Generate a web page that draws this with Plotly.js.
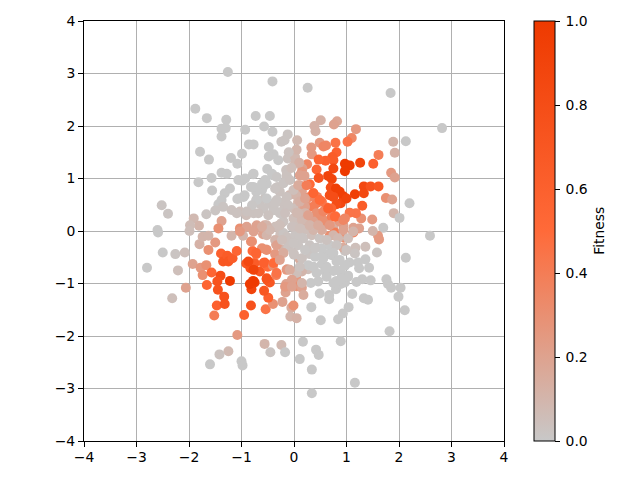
<!DOCTYPE html>
<html>
<head>
<meta charset="utf-8">
<script src="https://cdn.plot.ly/plotly-3.0.1.min.js"></script>
<style>html,body{margin:0;padding:0;background:#fff}</style>
</head>
<body>
<div id="chart" style="width:640px;height:480px"></div>
<script>
const xs = [
-1.26,-.41,-1.88,-1.66,-1.29,-1.38,-1.30,-1.38,-.93,-.73,
-.46,-.57,-.41,-.12,-.24,-.18,-.86,-.77,-.48,-.39,
-.48,-1.79,-1.62,-1.20,-.99,-1.08,-1.38,-1.28,-.78,-.51,
-.40,-.99,-1.82,-1.57,-1.56,-1.22,-1.32,-1.38,-1.44,-1.08,
-.94,-.82,-.72,-.59,-2.52,-2.40,-1.67,-1.50,-1.35,-1.19,
-1.03,-.91,-.81,-1.91,-1.81,-1.98,-2.60,-1.38,-1.44,-1.03,
-.72,-.56,-.24,-.72,-.65,-.56,-.46,-.37,-.21,-.31,
-.15,-.15,-.12,-.27,-.09,.26,1.84,2.82,2.13,1.89,
1.92,1.18,1.10,1.02,.82,.76,.51,.39,.41,.06,
.49,.56,.61,.79,.33,.34,.81,.73,.75,.60,
.47,.25,.43,.16,.02,.02,.75,.97,1.06,.97,
1.26,1.51,1.61,1.85,1.92,.65,.72,.47,.30,.15,
.11,.15,.70,.80,.87,.68,.75,.94,.89,.81,
1.0,1.16,1.33,1.33,1.46,1.61,1.75,1.87,2.20,1.90,
2.01,1.70,1.49,1.30,1.28,1.18,1.06,.97,.79,.62,
.71,.53,.37,.44,.43,.27,.08,.04,.16,.43,
.62,.94,1.13,1.24,.24,.08,.34,.75,-2.59,-1.99,
-2.50,-2.26,-2.08,-2.80,-2.21,-2.32,-2.06,-1.93,-1.80,-1.74,
-1.63,-1.50,-1.63,-1.78,-1.67,-1.74,-1.57,-1.66,-1.40,-1.46,
-1.22,-1.45,-1.33,-1.47,-1.32,-1.52,-1.39,-1.35,-1.27,-1.25,
-1.17,-1.09,-.95,-.82,-.54,-.40,-.49,-.57,-.22,-.16,
-.15,-.05,-.07,-.81,-.78,-.84,-.75,-.49,-.52,-.46,
-.65,-.91,-.83,-.75,-.79,-.72,-.56,-.50,-.34,-.40,
-.36,-.13,-.53,-.82,-.34,-.20,-1.19,-.97,-.59,-.26,
-1.08,-.56,-.24,-.45,-.17,-1.25,-1.42,-1.60,-1.0,-.98,
2.59,2.13,1.58,1.36,1.60,1.62,1.17,1.16,1.36,1.43,
1.22,1.24,1.46,1.30,1.19,1.76,1.79,1.85,2.03,1.99,
2.11,1.82,1.11,1.33,1.41,1.04,.93,.84,.51,.33,
.67,.67,.49,.32,.80,.89,.97,.81,.75,.91,
1.03,.97,1.06,.97,.94,.72,.65,.53,.53,.59,
.43,.30,.11,.27,.15,.04,.05,.15,.18,-.01,
.05,.89,.17,.42,.47,.11,.34,1.16,.34,.68,
.78,.95,1.13,-.77,-.42,-.52,-.36,-.14,-.77,-.61,
-.96,-.71,-.52,-.33,-.14,-.01,.08,-.39,-.58,-.77,
-.20,-.01,.15,-.04,.21,-.20,-.36,-.52,-.71,-.90,
-1.03,-.52,-.36,-.14,.02,.18,.34,.08,.30,-.11,
-.33,-.80,-.61,-.52,.15,.40,.53,.49,.68,.75,
.53,.56,.37,.21,.30,.08,.11,-.20,-.01,.27,
.43,.62,.81,1.03,.05,.15,-.04,-.14,-.17,-.39,
.75,.87,-.27,.21,.43,.37,.72,.87,.94,.68,
.37,.84,1.03,1.13,-.30,-.10,.00,.10,.30,.05,
-1.06,-.93,-.55,-.20,-.08,-.33,-.61,-1.06,-.80,-1.09,
-.90,-.68,-.49,-.36,-.11,.08,-.17,-.01,-.27,-.46,
-.61,-.77,.11,.30,.46,.56,.27,-.23,-.01,.21,
-.01,.40,.62,.81,1.0,.75,.56,.37,.11,.81,
.97,.62,.46,.91,-.20,-.27,-.33,-.58,-.72,-.77,
-.87,-.52,-.77,-.08,-.04,.24,.37,.49,.65,.78,
.94,.11,.21,.05,.10,.20,-.10,-.05,-.30,1.50
];
const ys = [
3.03,2.85,2.33,2.15,2.12,1.95,1.96,1.80,1.93,2.19,
2.19,1.99,1.89,1.84,1.70,1.73,1.65,1.65,1.60,1.46,
1.42,1.51,1.36,1.39,1.47,1.28,1.11,1.09,1.08,1.18,
1.06,.96,.93,1.01,.77,.81,.72,.59,.51,.61,
.68,.84,.75,.84,.49,.33,.32,.39,.46,.40,
.37,.30,.37,.24,.10,.11,.02,.19,.05,.05,
.08,.11,.15,.59,.52,.62,.52,.40,.54,.84,
.97,1.16,1.38,.75,.68,2.73,2.63,1.96,1.71,1.70,
1.49,1.94,1.77,1.70,2.09,2.03,2.11,2.00,1.90,1.73,
1.68,1.61,1.63,1.68,1.59,1.46,1.50,1.41,1.35,1.34,
1.36,1.27,1.17,1.19,1.41,1.28,1.19,1.28,1.25,1.14,
1.30,1.28,1.45,1.11,1.02,1.05,.99,1.01,.89,1.13,
.87,.75,.83,.81,.75,.68,.65,.66,.53,.51,
.62,.70,.85,.72,.85,.85,.63,.60,.53,.34,
.25,.06,.22,.48,.24,.34,.35,.24,.28,.45,
.43,.56,.72,.65,.53,.46,.53,.68,.37,.27,
.15,.11,.06,.05,.15,.10,.02,.08,-.03,0,
-.41,-.44,-.41,-.70,-.75,-1.28,-1.08,-.63,-.25,-.11,
-.09,-.22,-.36,-.70,-.65,-.84,-.79,-1.03,-.85,-.96,
-.95,-1.12,-1.25,-1.42,-1.39,-1.61,-.43,-.58,-.47,-.58,
-.52,-.38,-1.60,-1.42,-1.49,-1.39,-1.27,-1.14,-1.35,-1.17,
-1.01,-1.46,-1.63,-1.11,-.95,-1.01,-.98,-.95,-.92,-.98,
-.77,-.62,-.71,-.61,-.38,-.44,-.60,-.68,-.84,-.66,
-.44,-.73,-.35,-.20,-.25,-.35,-.09,-.09,-.06,-.06,
-1.98,-2.15,-2.17,-2.31,-2.31,-2.29,-2.35,-2.54,-2.48,-2.56,
-.09,-.51,-.41,-.30,-.09,-.16,-.32,-.43,-.54,-.70,
-.60,-.71,-.94,-.92,-.97,-.92,-1.01,-1.08,-1.08,-1.25,
-1.51,-1.91,-1.20,-1.28,-1.31,-1.45,-1.57,-1.68,-1.70,-1.45,
-1.22,-1.30,-1.19,-.99,-1.11,-1.01,-.98,-.95,-.76,-.82,
-.85,-.66,-.60,-.38,-.32,-.46,-.44,-.48,-.63,-.76,
-.32,-.44,-.54,-.73,-.77,-.89,-1.05,-1.08,-1.22,-1.42,
-1.66,-2.10,-2.11,-2.26,-2.36,-2.44,-2.64,-2.89,-3.09,-.09,
-.03,-.13,-.03,1.09,1.09,.90,.81,1.06,.84,.78,
.65,.59,.62,.59,.65,.78,.56,.40,.43,.34,
.18,.24,.21,.08,.02,-.04,.08,.11,.11,.08,
-.01,-.08,-.17,-.11,-.08,-.14,-.08,-.27,-.27,-.30,
-.27,-.20,-.33,-.36,-.52,-.49,-.33,-.14,-.27,-.08,
.02,.21,.46,.46,.65,.87,1.06,.40,.43,-.65,
-.80,-.68,-.74,-.87,-.80,-.99,-.93,-.74,-1.06,-.61,
-.99,-.55,.34,.34,.34,.18,.27,.18,.02,.11,
.02,-.14,-.14,-.01,.10,-.20,-.45,-.10,.10,.35,
.97,1.0,.97,.91,.97,1.03,.90,.62,.49,.34,
.37,.34,.30,.53,.49,.34,.34,.08,.11,.02,
.08,-.01,.05,.11,.11,.37,.30,-.17,-.23,-.36,
-.42,-.33,-.17,-.27,-.36,-.42,-.52,-.68,-.68,-.58,
-.65,-.87,-.96,-.90,-.42,-.55,-.80,-.61,-.42,-.74,
-.58,-.90,-.96,-.74,-1.06,.87,.72,.59,.43,.27,
.21,.56,.62,1.55,1.30,1.05,1.50,1.20,1.35,.00
];
const fitness = [
0,0,0,0,0,0,0,0,0,0,
0,0,0,.02,.02,.02,0,0,0,0,
0,0,0,0,0,0,0,0,0,0,
0,0,0,0,0,0,0,0,0,0,
0,0,0,0,.02,.02,.02,.02,.02,.03,
.05,.05,.05,.08,.1,.06,0,.2,.3,.3,
.2,.15,.05,.02,.02,.02,.02,.02,.03,.02,
.03,.03,.03,.03,.08,0,0,0,0,.1,
.12,.25,.35,.45,.18,.2,.12,.12,.12,.08,
.25,.35,.35,.45,.25,.25,.6,.65,.65,.6,
.55,.35,.55,.2,.08,.08,.85,1,1,1,
.9,.6,.4,.25,.2,.9,.9,.75,.5,.25,
.2,.2,.8,.95,.95,.8,.8,.95,.85,.8,
.9,.95,.85,.85,.75,.7,.3,.2,0,.1,
0,0,.25,.65,.3,.45,.45,.35,.45,.5,
.55,.45,.45,.4,.4,.25,.15,.1,.2,.3,
.25,.2,.2,.2,.1,.05,.15,.15,0,.05,
0,.02,.05,0,.05,.05,.2,.2,.12,.1,
.1,.25,.3,.25,.3,.3,.55,.55,.8,.75,
1,.75,.75,.6,.75,.4,.6,.7,.65,.7,
.65,.55,.6,.75,.45,.3,.6,.7,.2,.2,
.2,.15,.1,.9,.95,1,.95,.7,.7,.7,
.7,.7,.75,.65,.5,.5,.6,.5,.4,.3,
.25,.2,.2,.3,.15,.1,.1,.1,.2,.05,
.25,.1,.08,.02,0,.08,.03,0,0,0,
0,0,.02,.05,.25,.25,.05,.02,0,0,
0,0,0,0,0,0,0,0,0,0,
0,0,0,0,0,0,0,0,0,0,
0,0,0,0,0,0,0,0,0,0,
0,0,0,.02,.15,0,0,0,0,0,
.02,.02,.15,.05,.1,.25,.3,.2,.15,.3,
.12,0,0,0,0,0,0,0,0,.3,
.4,.3,.4,0,0,0,.02,.03,0,0,
0,0,0,.02,.03,.05,.1,.02,.02,.03,
.03,.05,.08,.03,.05,.02,.05,.1,.2,.2,
.25,.1,.1,.03,.02,.02,.05,.02,.02,.03,
.2,.3,.3,.3,.03,0,0,.02,0,.1,
.15,.3,.4,.2,.35,.15,.2,.03,.05,0,
0,0,0,0,.05,.1,.2,.25,.25,.5,
0,0,.02,.1,.3,.2,.4,.25,.2,.25,
.1,.08,.05,.1,.05,.03,.03,.02,.08,.08,
0,0,0,.02,.03,.01,0,0,.01,.03,
.03,.03,.03,.02,.03,.08,.04,.04,.05,.08,
.15,.2,.05,.1,.15,.35,.2,.05,.02,.01,
.03,.01,.03,.02,.03,0,0,0,.03,0,
0,0,0,0,.15,.2,.45,.6,.55,.9,
.85,.75,1,.15,.2,.4,.55,.5,.6,.5,
.35,.12,.2,.1,.12,.2,.03,.05,0,.1
];
const fitnessColors = [[0,"#c8c8c8"],[0.5,"#ff6a39"],[1,"#ee3a00"]];
const axisTicks = [-4,-3,-2,-1,0,1,2,3,4];
const barTicks = [0,0.2,0.4,0.6,0.8,1];
const barTickText = ["\u20090.0","\u20090.2","\u20090.4","\u20090.6","\u20090.8","\u20091.0"];
const font = {family:"DejaVu Sans, sans-serif",size:13.9,color:"#000"};
const axis = {
  range:[-4,4], tickvals:axisTicks, ticks:"outside", ticklen:5, tickwidth:1, tickcolor:"#000",
  showgrid:true, gridcolor:"#b0b0b0", gridwidth:1, zeroline:false,
  showline:true, linecolor:"#000", linewidth:1, mirror:true, tickfont:font
};
Plotly.newPlot("chart",[{
  type:"scatter", mode:"markers", x:xs, y:ys,
  marker:{
    size:10, color:fitness, cmin:0, cmax:1, colorscale:fitnessColors, line:{width:0},
    colorbar:{
      x:1.071, xanchor:"left", y:0.5, yanchor:"middle", len:1, thickness:21, xpad:0, ypad:0,
      outlinecolor:"#000", outlinewidth:1, ticks:"outside", ticklen:5, tickwidth:1, tickcolor:"#000",
      tickvals:barTicks, ticktext:barTickText, tickfont:font
    }
  }
}],{
  width:640,height:480,autosize:false,showlegend:false,
  margin:{l:83.5,r:135.5,t:20.5,b:38.5,pad:0},
  paper_bgcolor:"#fff",plot_bgcolor:"#fff",font:font,
  xaxis:Object.assign({ticklabelstandoff:-2},axis),
  yaxis:Object.assign({},axis),
  annotations:[{text:"Fitness",textangle:-90,xref:"paper",yref:"paper",x:1.2257,y:0.5,
    xanchor:"center",yanchor:"middle",showarrow:false,font:font}]
},{displayModeBar:false,staticPlot:true});
</script>
</body>
</html>
